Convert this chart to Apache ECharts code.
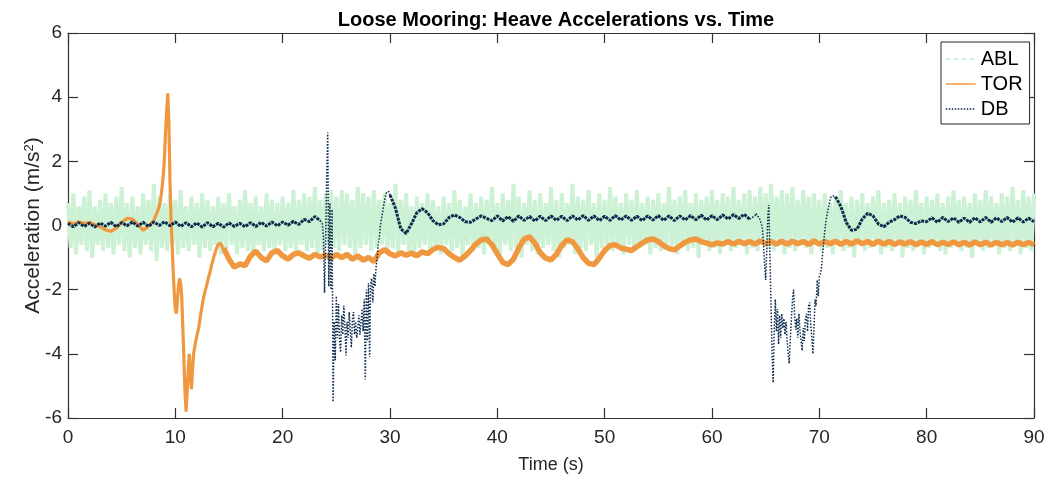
<!DOCTYPE html>
<html>
<head>
<meta charset="utf-8">
<script src="https://cdn.jsdelivr.net/npm/echarts@6/dist/echarts.min.js"></script>
<style>
html,body{margin:0;padding:0;background:#fff;}
#chart{width:1059px;height:485px;}
</style>
</head>
<body>
<div id="chart"></div>
<script>
// ---------------- data ----------------
const xTicks = [0, 10, 20, 30, 40, 50, 60, 70, 80, 90];
const yTicks = [-6, -4, -2, 0, 2, 4, 6];

// ABL: noisy band, alternating upper (t = i*0.5) and lower (t = i*0.5+0.25) excursions
const ablStep = 0.5;
const ablHigh = [
0.7,1.0,0.6,0.9,1.1,0.6,0.8,1.0,0.7,0.9,
1.2,0.7,0.9,0.6,1.0,0.8,1.3,0.9,0.7,1.0,
0.8,1.1,0.6,0.9,0.7,1.0,0.8,0.6,0.9,0.7,
1.0,0.6,0.8,1.1,0.7,0.9,0.6,1.0,0.8,0.7,
0.9,0.7,1.1,0.8,1.0,0.9,1.2,0.8,1.0,1.1,
0.9,1.1,1.0,0.8,1.2,1.0,0.9,1.1,0.8,1.0,
0.7,1.3,0.8,1.0,0.6,0.9,0.7,1.0,0.8,0.6,
0.9,0.7,1.1,0.8,0.6,1.0,0.7,0.9,0.8,1.2,
0.7,1.0,0.8,1.3,0.9,0.7,1.1,0.8,1.0,0.7,
1.2,0.8,1.0,0.7,1.3,0.9,0.8,1.1,0.7,1.0,
0.8,1.2,0.9,0.7,1.0,0.8,1.1,0.7,0.9,0.8,
1.0,0.7,1.2,0.8,0.9,1.1,0.7,1.0,0.8,0.9,
1.1,0.8,1.0,0.9,1.2,0.8,1.0,1.1,0.9,1.2,
1.0,1.3,0.9,1.1,1.0,1.2,0.8,1.1,0.9,1.0,
0.8,1.0,0.7,0.9,1.1,0.7,0.9,0.8,1.0,0.7,
0.9,1.1,0.7,0.8,1.0,0.7,0.9,0.8,1.1,0.7,
0.9,0.8,1.0,0.7,0.9,1.1,0.8,0.9,0.7,1.0,
0.8,1.1,0.9,0.7,1.0,0.9,1.2,0.8,1.1,0.9,
1.0];
const ablLow = [
-0.7,-0.9,-0.6,-0.8,-1.0,-0.6,-0.8,-0.7,-0.9,-0.6,
-0.8,-1.0,-0.7,-0.9,-0.6,-0.8,-1.1,-0.7,-0.8,-0.6,
-0.9,-0.7,-0.8,-0.6,-1.0,-0.7,-0.8,-0.6,-0.9,-0.7,
-0.6,-0.9,-0.7,-0.8,-1.0,-0.6,-0.8,-0.7,-0.9,-0.6,
-0.8,-0.7,-0.9,-0.6,-0.8,-0.7,-0.9,-0.8,-0.6,-0.7,
-0.8,-0.6,-0.7,-0.9,-0.7,-0.6,-0.8,-0.7,-0.6,-0.8,
-0.7,-0.9,-0.6,-0.8,-1.0,-0.7,-0.6,-0.8,-0.7,-0.9,
-0.6,-0.8,-0.7,-1.0,-0.6,-0.8,-0.7,-0.9,-0.6,-0.8,
-0.9,-0.6,-0.8,-0.7,-1.0,-0.6,-0.8,-0.9,-0.7,-0.6,
-0.8,-1.0,-0.7,-0.6,-0.9,-0.7,-0.8,-0.6,-1.0,-0.7,
-0.6,-0.8,-0.7,-0.9,-0.6,-0.8,-0.7,-0.6,-0.9,-0.7,
-0.8,-0.6,-0.7,-0.9,-0.6,-0.8,-0.7,-1.0,-0.6,-0.8,
-0.7,-0.9,-0.6,-0.8,-0.7,-0.6,-0.9,-0.7,-0.8,-0.6,
-0.7,-0.8,-0.6,-0.9,-0.7,-0.8,-0.6,-0.7,-0.9,-0.6,
-0.8,-0.7,-0.9,-0.6,-0.8,-0.7,-1.0,-0.6,-0.8,-0.7,
-0.6,-0.9,-0.7,-0.8,-0.6,-1.0,-0.7,-0.8,-0.6,-0.9,
-0.7,-0.6,-0.8,-0.9,-0.7,-0.6,-0.8,-0.7,-1.0,-0.6,
-0.8,-0.7,-0.6,-0.9,-0.7,-0.8,-0.6,-0.9,-0.7,-0.8];

// TOR: segments [start time, step, values]
const torA = [0.12,0.05,0.12,0.06,0.1,0.02,-0.04,-0.14,-0.18,-0.08,0.1,0.22,0.2,0.04,-0.15,-0.02]; // 0 .. 7.5
const torB = [ // 8.0 .. 14.4
0.15,0.25,0.3,0.4,0.5,0.6,0.75,1.0,1.3,1.65,
2.2,3.0,3.6,4.12,3.2,1.4,0.2,-0.6,-1.4,-2.1,
-2.6,-2.75,-2.3,-1.85,-1.65,-1.8,-2.25,-3.2,-4.2,-5.2,
-5.8,-5.2,-4.5,-4.0,-4.6,-5.1,-4.5,-4.0,-3.8,-3.6,
-3.45,-3.3,-3.15,-2.9,-2.7,-2.5,-2.3,-2.15,-2.0,-1.9,
-1.75,-1.6,-1.5,-1.35,-1.2,-1.1,-0.95,-0.86,-0.75,-0.65,
-0.6,-0.55,-0.55,-0.6,-0.7];
const torC = [ // 14.5 .. 90
-0.7,-1.05,-1.3,-1.2,-1.25,-0.95,-0.8,-1.0,-1.1,-0.85,
-0.78,-0.95,-1.05,-0.9,-0.85,-0.95,-1.02,-0.9,-0.98,-0.92,
-1.02,-0.9,-1.0,-0.9,-1.05,-0.95,-1.08,-1.0,-1.12,-0.85,
-0.75,-0.88,-0.95,-0.85,-0.93,-0.86,-0.94,-0.82,-0.88,-0.75,
-0.68,-0.72,-0.88,-1.0,-1.08,-0.95,-0.78,-0.58,-0.45,-0.42,
-0.6,-0.88,-1.15,-1.22,-1.05,-0.7,-0.42,-0.35,-0.55,-0.85,
-1.02,-1.07,-0.9,-0.62,-0.45,-0.5,-0.72,-1.0,-1.18,-1.22,
-1.02,-0.78,-0.62,-0.6,-0.7,-0.74,-0.78,-0.66,-0.55,-0.45,
-0.42,-0.5,-0.63,-0.72,-0.76,-0.64,-0.52,-0.45,-0.42,-0.5,
-0.55,-0.6,-0.54,-0.58,-0.5,-0.58,-0.49,-0.57,-0.5,-0.58,
-0.48,-0.57,-0.5,-0.58,-0.49,-0.58,-0.49,-0.57,-0.5,-0.59,
-0.48,-0.58,-0.5,-0.57,-0.49,-0.59,-0.5,-0.58,-0.48,-0.57,
-0.5,-0.59,-0.49,-0.58,-0.5,-0.59,-0.51,-0.58,-0.5,-0.6,
-0.51,-0.59,-0.5,-0.6,-0.52,-0.59,-0.51,-0.6,-0.52,-0.61,
-0.51,-0.6,-0.52,-0.61,-0.52,-0.6,-0.53,-0.61,-0.52,-0.6,
-0.53,-0.6];

// DB: segments [start time, step, values]
const dbA = [ // 0 .. 23.5
0.07,-0.04,0.09,-0.03,0.07,-0.05,0.08,-0.02,0.1,-0.04,
0.09,-0.01,0.11,-0.02,0.1,-0.03,0.11,0.0,0.12,-0.01,
0.11,-0.03,0.09,-0.04,0.08,-0.05,0.09,-0.04,0.07,-0.05,
0.08,-0.03,0.07,-0.04,0.09,-0.03,0.1,-0.02,0.11,-0.01,
0.11,0.01,0.13,0.03,0.19,0.12,0.28,0.15];
const dbB = [ // 23.6 .. 29.9
0.2,0.05,-0.35,-2.1,
-0.5,1.5,2.9,-1.9,0.7,-2.0,0.5,-5.5,-3.0,-4.2,
-2.2,-3.5,-2.45,-3.6,-3.95,-2.8,-3.4,-2.5,-3.2,-4.05,
-3.0,-3.5,-2.7,-3.3,-3.8,-2.9,-2.7,-3.4,-3.0,-3.5,
-3.2,-2.8,-3.4,-3.0,-2.6,-3.3,-2.3,-4.8,-2.0,-3.6,
-1.8,-4.1,-1.8,-1.65,-2.4,-1.5,-1.9,-1.3,-1.0,-0.6,
-0.4,0.0,0.2,0.4,0.6,0.8,0.95,1.05,1.1,1.05];
const dbC = [ // 30 .. 63.5
0.95,0.55,-0.1,-0.25,0.05,0.4,0.52,0.4,0.15,0.02,
0.05,0.25,0.33,0.25,0.12,0.1,0.2,0.3,0.22,0.15,
0.3,0.14,0.28,0.13,0.3,0.16,0.28,0.14,0.29,0.15,
0.3,0.16,0.29,0.15,0.3,0.17,0.31,0.16,0.3,0.15,
0.29,0.16,0.31,0.17,0.3,0.16,0.29,0.15,0.3,0.17,
0.31,0.16,0.3,0.15,0.3,0.17,0.31,0.18,0.32,0.17,
0.31,0.18,0.33,0.2,0.34,0.22,0.35,0.2];
const dbD = [ // 64.0 .. 71.3
0.3,0.38,0.3,0.35,0.25,0.2,0.05,-0.1,-0.6,-1.2,
-1.7,-0.8,0.3,0.64,-1.0,-2.5,-4.0,-4.9,-3.2,-2.3,
-3.3,-2.6,-3.7,-2.8,-3.5,-2.75,-3.2,-2.9,-3.4,-3.0,
-3.6,-4.0,-4.3,-3.5,-2.9,-2.3,-2.0,-2.8,-3.25,-2.9,
-3.5,-2.75,-3.3,-3.6,-3.9,-3.2,-3.6,-2.9,-2.75,-3.3,
-2.5,-2.4,-3.1,-3.5,-4.0,-3.2,-2.3,-2.5,-1.7,-2.2,
-1.6,-1.5,-1.3,-0.9,-0.55,-0.2,0.1,0.3,0.48,0.65,
0.8,0.9,0.95,0.92];
const dbE = [ // 71.5 .. 90
0.9,0.6,0.1,-0.15,-0.12,0.2,0.38,0.3,0.05,-0.04,
0.1,0.18,0.3,0.25,0.1,0.06,0.14,0.12,0.24,0.1,
0.25,0.12,0.24,0.1,0.23,0.1,0.24,0.11,0.25,0.1,
0.24,0.12,0.25,0.1,0.24,0.11,0.23,0.12];

// ---------------- build series data ----------------
function seg(t0, dt, vals) {
  return vals.map((v, i) => [+(t0 + i * dt).toFixed(3), v]);
}
function zigzag(high, low, step) {
  const out = [];
  high.forEach((v, i) => {
    out.push([i * step, v]);
    if (i < low.length) out.push([i * step + step / 2, low[i]]);
  });
  return out;
}
const first = a => a[0];
const last = a => a[a.length - 1];

const torPtsA = seg(0, 0.5, torA), torPtsB = seg(8.0, 0.1, torB), torPtsC = seg(14.5, 0.5, torC);
const torEarly = torPtsA.concat(torPtsB, [first(torPtsC)]);

const dbPtsA = seg(0, 0.5, dbA), dbPtsB = seg(23.6, 0.1, dbB), dbPtsC = seg(30, 0.5, dbC),
      dbPtsD = seg(64.0, 0.1, dbD), dbPtsE = seg(71.5, 0.5, dbE);
const dbSteady = dbPtsA.concat([null], dbPtsC, [null], dbPtsE);
const dbSpikes = [last(dbPtsA)].concat(dbPtsB, [first(dbPtsC)], [null], [last(dbPtsC)], dbPtsD, [first(dbPtsE)]);

const axisColor = '#333333';
const textColor = '#262626';
const font = 'Liberation Sans, Arial, Helvetica, sans-serif';
const ablColor = '#cdf1d4', torColor = '#f0983f', dbColor = '#0d2b4e';

const axisCommon = {
  axisLine: {show: true, onZero: false, lineStyle: {color: axisColor, width: 1.2}},
  axisTick: {show: true, inside: true, length: 10, lineStyle: {color: axisColor, width: 1.2}},
  splitLine: {show: false}
};

const chart = echarts.init(document.getElementById('chart'), null, {renderer: 'canvas'});
chart.setOption({
  animation: false,
  backgroundColor: '#ffffff',
  textStyle: {fontFamily: font},
  title: {
    text: 'Loose Mooring: Heave Accelerations vs. Time',
    left: 551, top: 5, textAlign: 'center',
    textStyle: {fontSize: 20, fontWeight: 'bold', color: '#000', fontFamily: font}
  },
  grid: {left: 68, right: 25, top: 33, bottom: 67, containLabel: false, outerBoundsMode: 'none'},
  legend: {
    orient: 'vertical', left: 941, top: 42,
    padding: [7, 7, 5, 4], itemGap: 5, itemWidth: 30, itemHeight: 14,
    borderColor: '#262626', borderWidth: 1, backgroundColor: '#fff',
    textStyle: {fontSize: 20, color: '#000', fontFamily: font},
    itemStyle: {opacity: 0},
    data: [
      {name: 'ABL', itemStyle: {opacity: 0}, lineStyle: {type: [5, 3], width: 1.2, color: '#aee8bb'}},
      {name: 'TOR', itemStyle: {opacity: 0}, lineStyle: {width: 1.5, color: torColor}},
      {name: 'DB', itemStyle: {opacity: 0}, lineStyle: {type: [1.5, 1.5], width: 1.5, color: dbColor}}
    ]
  },
  xAxis: [Object.assign({
    type: 'value', min: xTicks[0], max: xTicks[xTicks.length - 1], interval: 10,
    position: 'bottom',
    name: 'Time (s)', nameLocation: 'middle', nameGap: 38, nameMoveOverlap: false,
    nameTextStyle: {fontSize: 18, color: textColor, fontFamily: font},
    axisLabel: {fontSize: 19, color: textColor, margin: 10, fontFamily: font}
  }, axisCommon), Object.assign({
    type: 'value', min: xTicks[0], max: xTicks[xTicks.length - 1], interval: 10,
    position: 'top',
    axisLabel: {show: false}
  }, axisCommon)],
  yAxis: [Object.assign({
    type: 'value', min: yTicks[0], max: yTicks[yTicks.length - 1], interval: 2,
    position: 'left',
    name: '{a|Acceleration (m/s}{b|2}{a|)}', nameLocation: 'middle', nameGap: 24, nameMoveOverlap: false,
    nameTextStyle: {
      color: textColor, fontFamily: font,
      rich: {
        a: {fontSize: 21, color: textColor, fontFamily: font},
        b: {fontSize: 13, color: textColor, fontFamily: font, verticalAlign: 'top', lineHeight: 13}
      }
    },
    axisLabel: {fontSize: 19, color: textColor, margin: 6, fontFamily: font}
  }, axisCommon), Object.assign({
    type: 'value', min: yTicks[0], max: yTicks[yTicks.length - 1], interval: 2,
    position: 'right',
    axisLabel: {show: false}
  }, axisCommon)],
  series: [{
    name: 'ABL', type: 'line', data: zigzag(ablHigh, ablLow, ablStep),
    symbol: 'none', clip: true,
    lineStyle: {color: ablColor, width: 4}, itemStyle: {color: ablColor}, z: 1
  }, {
    name: 'TOR', type: 'line', data: torEarly,
    symbol: 'none', clip: true,
    lineStyle: {color: torColor, width: 3.2}, itemStyle: {color: torColor}, z: 2
  }, {
    name: 'TOR', type: 'line', data: torPtsC,
    symbol: 'none', clip: true,
    lineStyle: {color: torColor, width: 5.5}, itemStyle: {color: torColor}, z: 2
  }, {
    name: 'DB', type: 'line', data: dbSteady, connectNulls: false,
    symbol: 'none', clip: true,
    lineStyle: {color: dbColor, width: 3, type: [3, 1]}, itemStyle: {color: dbColor}, z: 3
  }, {
    name: 'DB', type: 'line', data: dbSpikes, connectNulls: false,
    symbol: 'none', clip: true,
    lineStyle: {color: dbColor, width: 1.5, type: [1.5, 1.6]}, itemStyle: {color: dbColor}, z: 3
  }]
});
</script>
</body>
</html>
